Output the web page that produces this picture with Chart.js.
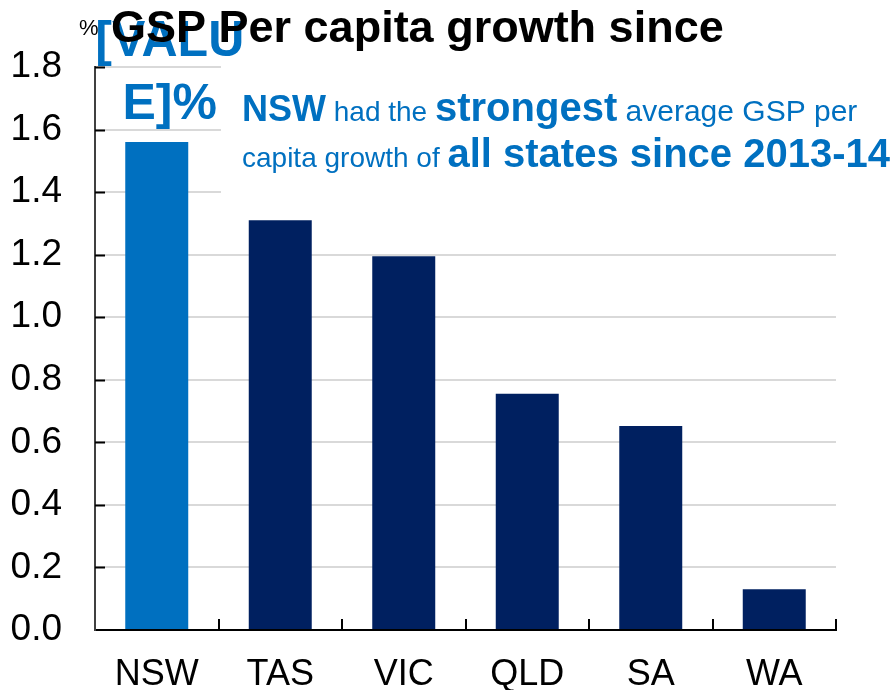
<!DOCTYPE html>
<html>
<head>
<meta charset="utf-8">
<script src="https://cdn.jsdelivr.net/npm/chart.js@4.4.1/dist/chart.umd.min.js"></script>
<style>
  body { margin: 0; background: #fff; }
  #c { display: block; }
</style>
</head>
<body>
<canvas id="c" width="894" height="690"></canvas>
<script>
const states = ['NSW', 'TAS', 'VIC', 'QLD', 'SA', 'WA'];
const growth = [1.56, 1.31, 1.195, 0.755, 0.652, 0.13];
const barColors = ['#0070C0', '#002060', '#002060', '#002060', '#002060', '#002060'];
const yTicks = [0, 0.2, 0.4, 0.6, 0.8, 1.0, 1.2, 1.4, 1.6, 1.8];

const title = 'GSP Per capita growth since';
const unitLabel = '%';
const brokenLabel = ['[VALU', 'E]%'];
const noteLines = [
    [{ t: 'NSW', bold: true, size: 36 }, { t: ' had the ', size: 28 }, { t: 'strongest', bold: true, size: 40 }, { t: ' average GSP per', size: 30 }],
    [{ t: 'capita growth of ', size: 28 }, { t: 'all states since 2013-14', bold: true, size: 40 }]
];

const FONT = '"Liberation Sans", Arial, sans-serif';
const BLUE = '#0070C0';

// white box behind the note, covers the top gridlines
const noteBox = {
    id: 'noteBox',
    beforeDatasetsDraw(chart) {
        const ctx = chart.ctx;
        const y = chart.scales.y;
        const x = chart.scales.x;
        ctx.save();
        ctx.fillStyle = '#fff';
        const left = x.getPixelForValue(0.52);
        ctx.fillRect(left, y.top - 10, chart.chartArea.right - left + 2, y.getPixelForValue(1.35) - y.top + 10);
        ctx.restore();
    }
};

// short tick marks drawn inside the plot
const innerTicks = {
    id: 'innerTicks',
    afterDatasetsDraw(chart) {
        const ctx = chart.ctx;
        const x = chart.scales.x;
        const y = chart.scales.y;
        ctx.save();
        ctx.strokeStyle = '#000';
        ctx.lineWidth = 2;
        ctx.beginPath();
        yTicks.forEach(v => {
            if (v === 0) return;
            const py = Math.round(y.getPixelForValue(v)) + 0.5;
            ctx.moveTo(x.left, py);
            ctx.lineTo(x.left + 10, py);
        });
        for (let i = 1; i <= states.length; i++) {
            const px = Math.round(x.getPixelForValue(i - 0.5));
            ctx.moveTo(px, y.bottom);
            ctx.lineTo(px, y.bottom - 11);
        }
        ctx.stroke();
        ctx.restore();
    }
};

const texts = {
    id: 'texts',
    afterDraw(chart) {
        const ctx = chart.ctx;
        const bar = chart.getDatasetMeta(0).data[0];
        ctx.save();
        ctx.textBaseline = 'alphabetic';

        // broken data label above NSW
        ctx.fillStyle = BLUE;
        ctx.font = 'bold 50px ' + FONT;
        ctx.textAlign = 'center';
        ctx.fillText(brokenLabel[0], bar.x + 13, 56);
        ctx.fillText(brokenLabel[1], bar.x + 13, 119);

        // note text
        ctx.textAlign = 'left';
        const baselines = [121, 167];
        noteLines.forEach((runs, i) => {
            let px = 242;
            runs.forEach(r => {
                ctx.font = (r.bold ? 'bold ' : '') + r.size + 'px ' + FONT;
                ctx.fillText(r.t, px, baselines[i]);
                px += ctx.measureText(r.t).width;
            });
        });

        // unit and title
        ctx.fillStyle = '#000';
        ctx.font = '22px ' + FONT;
        ctx.fillText(unitLabel, 79, 35);
        ctx.font = 'bold 45px ' + FONT;
        ctx.fillText(title, 111, 42);
        ctx.restore();
    }
};

new Chart(document.getElementById('c').getContext('2d'), {
    type: 'bar',
    data: {
        labels: states,
        datasets: [{
            data: growth,
            backgroundColor: barColors,
            borderWidth: 0,
            categoryPercentage: 1,
            barPercentage: 0.51
        }]
    },
    options: {
        responsive: false,
        animation: false,
        layout: { padding: { left: 0, top: 67, right: 58, bottom: 0 } },
        plugins: {
            legend: { display: false },
            tooltip: { enabled: false }
        },
        scales: {
            x: {
                afterFit(scale) { scale.height = 60; },
                grid: { display: false, drawTicks: false },
                border: { display: true, color: '#000', width: 2 },
                ticks: {
                    color: '#000',
                    padding: 23,
                    font: { family: FONT, size: 36 }
                }
            },
            y: {
                min: 0,
                max: 1.8,
                afterFit(scale) { scale.width = 95; },
                afterBuildTicks(scale) { scale.ticks = yTicks.map(v => ({ value: v })); },
                grid: { color: '#d9d9d9', lineWidth: 2, drawTicks: false },
                border: { display: true, color: '#404040', width: 2 },
                ticks: {
                    color: '#000',
                    padding: 33,
                    font: { family: FONT, size: 37 },
                    callback: v => v.toFixed(1)
                }
            }
        }
    },
    plugins: [noteBox, innerTicks, texts]
});
</script>
</body>
</html>
